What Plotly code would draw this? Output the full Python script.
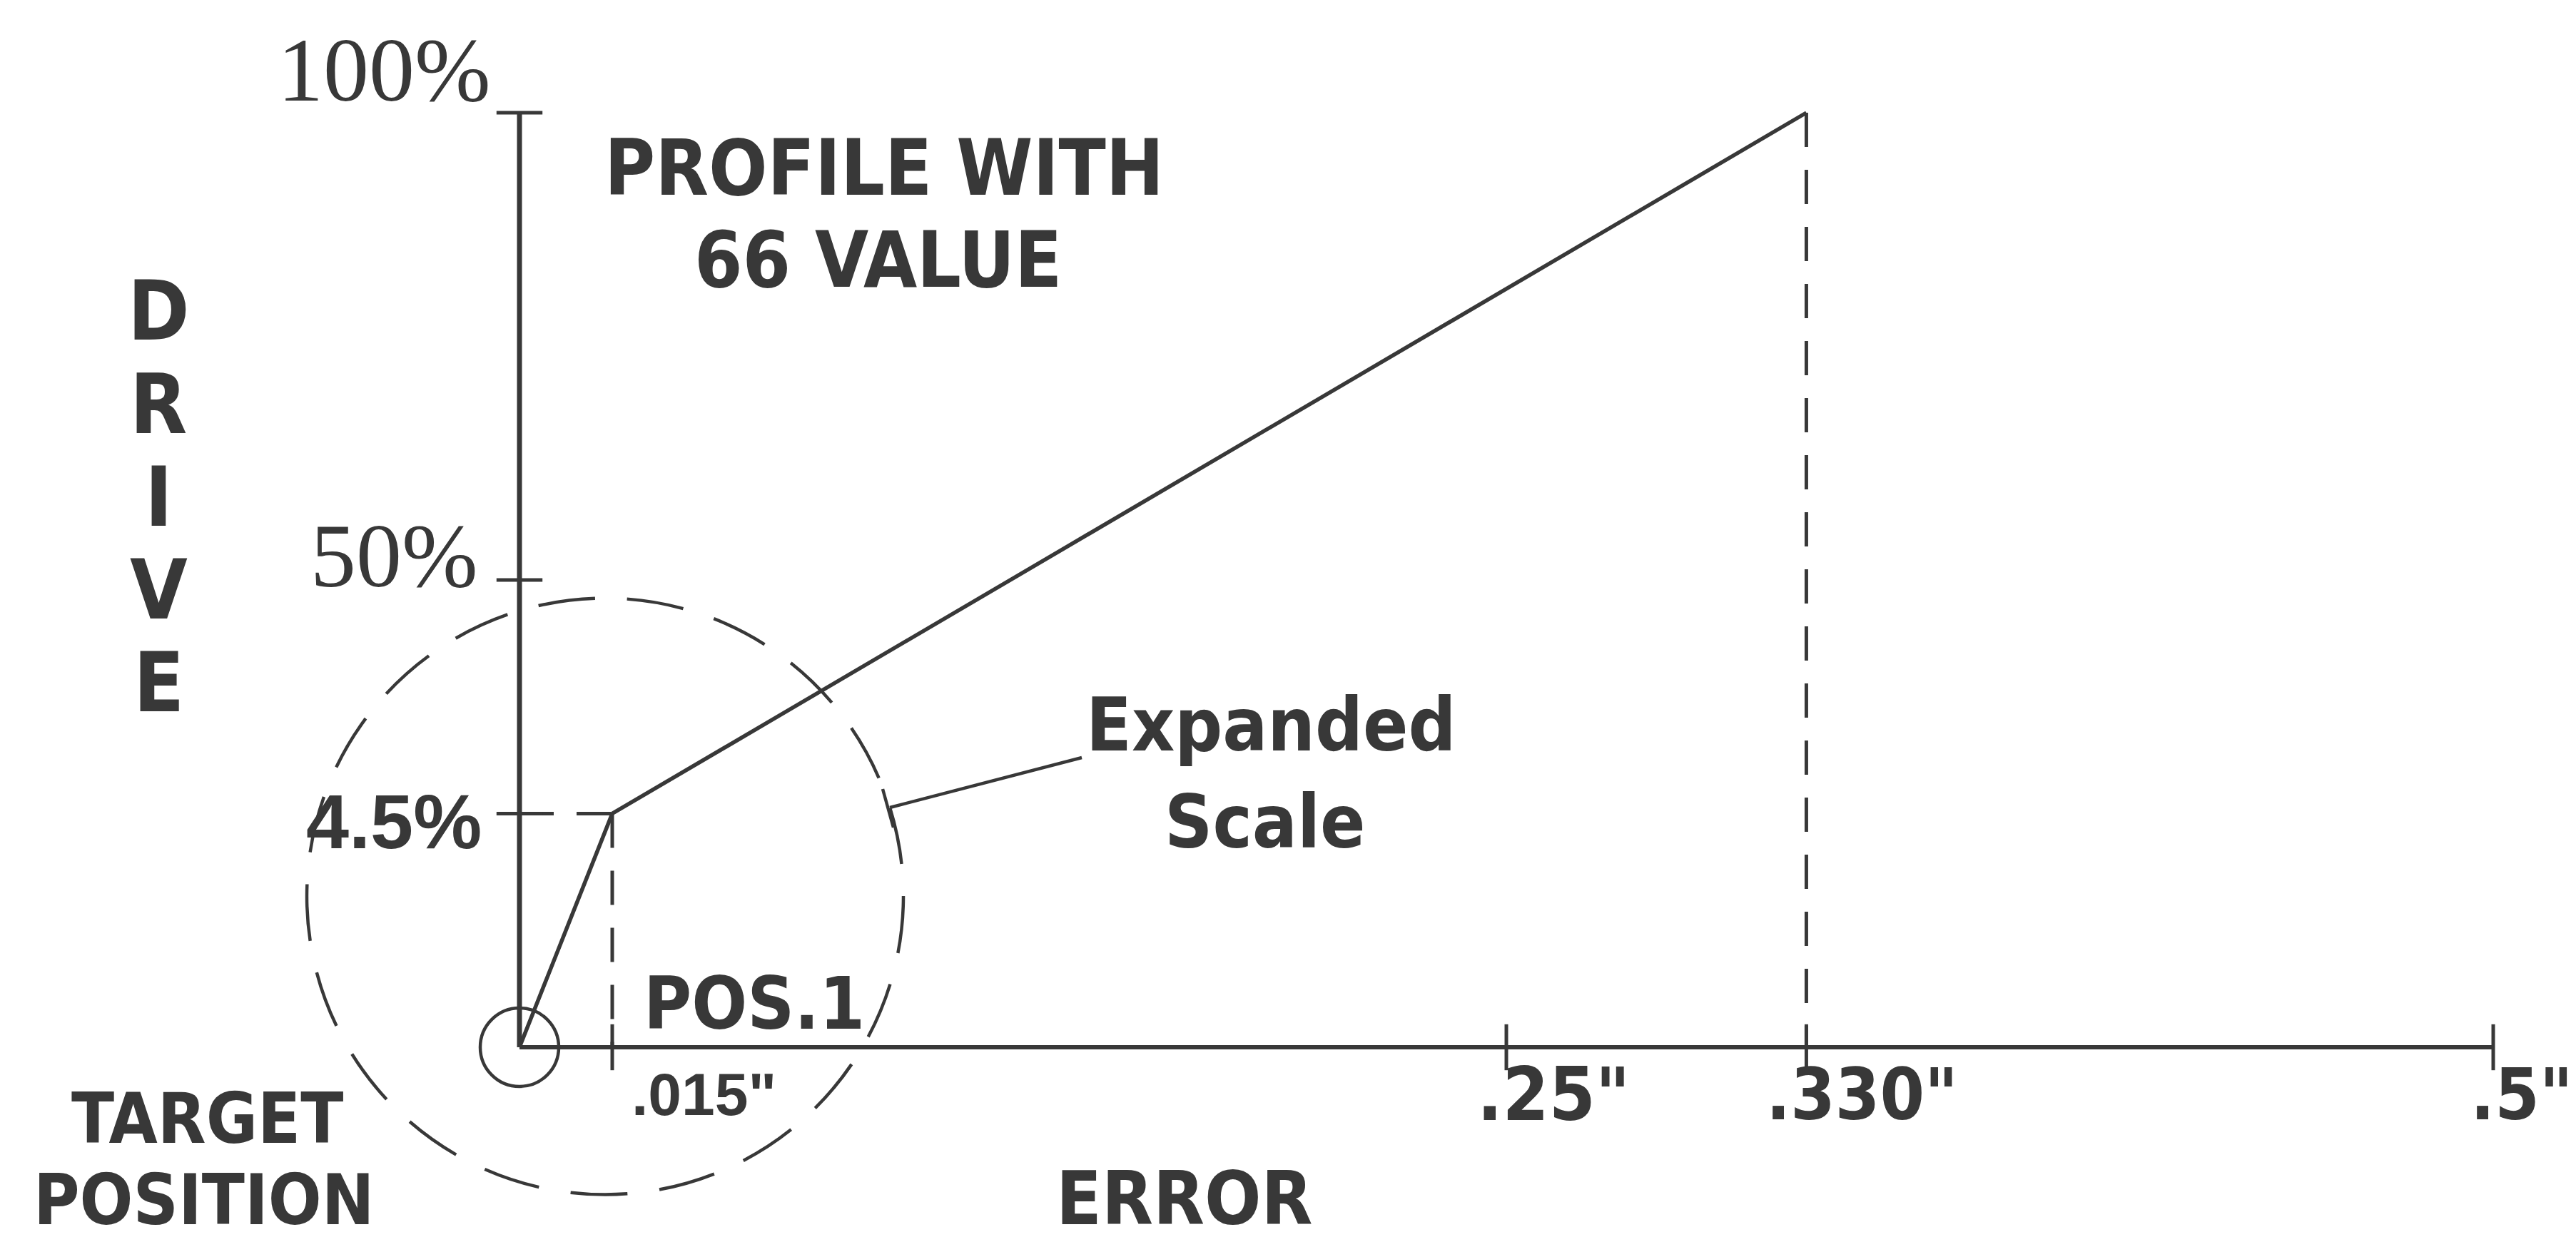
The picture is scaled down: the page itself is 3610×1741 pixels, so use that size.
import numpy as np
import plotly.graph_objects as go

# ---------------- data ----------------
error_tick_values = [0.015, 0.25, 0.330, 0.5]
error_tick_labels = ['.015"', '.25"', '.330"', '.5"']
drive_tick_values = [100, 50, 4.5]
drive_tick_labels = ["100%", "50%", "4.5%"]
profile_error = [0.0, 0.015, 0.330]      # inches
profile_drive = [0.0, 4.5, 100.0]        # percent drive
error_axis_max = 0.5
drive_axis_max = 100

# ------------- "expanded scale" of the drawing (not to scale near origin) -------------
X_BREAKS = [0, 0.015, 0.25, 0.330, 0.5]
X_DRAWN = [0, 0.0235, 0.25, 0.326, 0.5]
Y_BREAKS = [0, 4.5, 50, 100]
Y_DRAWN = [0, 25.0, 50, 100]


def ex(v):
    return np.interp(v, X_BREAKS, X_DRAWN)


def ey(v):
    return np.interp(v, Y_BREAKS, Y_DRAWN)


# ------------- geometry / style -------------
W, H = 3610, 1741
X0_PX, X1_PX = 720, 3486     # pixel of error 0 and 0.5
Y0_PX, Y1_PX = 1460, 150     # pixel of drive 0 and 100
sx = (X1_PX - X0_PX) / error_axis_max
sy = (Y0_PX - Y1_PX) / drive_axis_max
x_range = [-X0_PX / sx, (W - X0_PX) / sx]
y_range = [-(H - Y0_PX) / sy, Y0_PX / sy]

INK = "#383838"
COND = "DejaVu Sans Condensed, Liberation Sans Narrow, DejaVu Sans, sans-serif"
SANS = "Liberation Sans, Arial, sans-serif"
SERIF = "Liberation Serif, DejaVu Serif, serif"

fig = go.Figure()

# axes
fig.add_trace(go.Scatter(x=[0, ex(error_axis_max)], y=[0, 0], mode="lines",
                         line=dict(color=INK, width=6)))
fig.add_trace(go.Scatter(x=[0, 0], y=[0, ey(drive_axis_max)], mode="lines",
                         line=dict(color=INK, width=7)))

# dashed guide lines
kx, ky = float(ex(profile_error[1])), float(ey(profile_drive[1]))
px_, py_ = float(ex(profile_error[2])), float(ey(profile_drive[2]))
fig.add_trace(go.Scatter(
    x=[0, kx, None, kx, kx, None, px_, px_],
    y=[ky, ky, None, ky, 0, None, py_, 0],
    mode="lines", line=dict(color=INK, width=5, dash="48px,32px")))

# profile
fig.add_trace(go.Scatter(x=ex(profile_error), y=ey(profile_drive), mode="lines",
                         line=dict(color=INK, width=5.5)))

# ticks
fig.add_trace(go.Scatter(x=ex(error_tick_values), y=[0] * len(error_tick_values),
                         mode="markers",
                         marker=dict(symbol="line-ns", size=46,
                                     line=dict(color=INK, width=5))))
fig.add_trace(go.Scatter(x=[0] * len(drive_tick_values), y=ey(drive_tick_values),
                         mode="markers",
                         marker=dict(symbol="line-ew", size=46,
                                     line=dict(color=INK, width=5))))

# circles
fig.add_shape(type="circle", xref="x", yref="y", xsizemode="pixel", ysizemode="pixel",
              xanchor=0, yanchor=0, x0=-55, x1=55, y0=-55, y1=55,
              line=dict(color=INK, width=4.5))
cr, cdx, cdy = 418, -10, -116
fig.add_shape(type="circle", xref="x", yref="y", xsizemode="pixel", ysizemode="pixel",
              xanchor=kx, yanchor=ky, x0=cdx - cr, x1=cdx + cr, y0=cdy - cr, y1=cdy + cr,
              line=dict(color=INK, width=4.5, dash="80px,45px"))


def P(px, py):
    return px / W, 1 - py / H


# leader for "Expanded Scale"
for (a, b) in [((1239, 1124), (1508, 1054)), ((1229, 1098), (1244, 1152))]:
    x0, y0 = P(*a)
    x1, y1 = P(*b)
    fig.add_shape(type="line", xref="paper", yref="paper", x0=x0, y0=y0, x1=x1, y1=y1,
                  line=dict(color=INK, width=4.5))

ann = []


def text_px(t, px, py, size, family=COND, weight="bold"):
    x, y = P(px, py)
    ann.append(dict(text=t, x=x, y=y, xref="paper", yref="paper", xanchor="center",
                    yanchor="middle", showarrow=False,
                    font=dict(family=family, size=size, color=INK, weight=weight)))


# tick labels anchored to the axes
x_label_shift = [(128, -66), (66, -66), (78, -66), (40, -66)]
x_label_size = [84, 104, 100, 100]
for v, t, (dx, dy), s in zip(error_tick_values, error_tick_labels, x_label_shift, x_label_size):
    fam = SANS if t == '.015"' else COND
    ann.append(dict(text=t, x=float(ex(v)), y=0, xref="x", yref="y", xanchor="center",
                    yanchor="middle", xshift=dx, yshift=dy, showarrow=False,
                    font=dict(family=fam, size=s, color=INK, weight="bold")))

y_label_shift = [(-190, 60), (-176, 34), (-176, -11)]
y_label_font = [(SERIF, 128, "normal"), (SERIF, 128, "normal"), (SANS, 108, "bold")]
for v, t, (dx, dy), (fam, s, wt) in zip(drive_tick_values, drive_tick_labels, y_label_shift, y_label_font):
    ann.append(dict(text=t, x=0, y=float(ey(v)), xref="x", yref="y", xanchor="center",
                    yanchor="middle", xshift=dx, yshift=dy, showarrow=False,
                    font=dict(family=fam, size=s, color=INK, weight=wt)))

# titles / labels
text_px("PROFILE WITH", 1231, 228, 108)
text_px("66 VALUE", 1222, 356, 108)
for i, ch in enumerate("DRIVE"):
    text_px(ch, 214, 428 + 130 * i, 116)
text_px("Expanded", 1773, 1008, 104)
text_px("Scale", 1764, 1144, 104)
text_px("POS.1", 1049, 1398, 102)
text_px("TARGET", 282, 1560, 98)
text_px("POSITION", 277, 1674, 98)
text_px("ERROR", 1652, 1672, 104)

fig.update_layout(
    width=W, height=H, margin=dict(l=0, r=0, t=0, b=0),
    paper_bgcolor="white", plot_bgcolor="white", showlegend=False,
    hovermode=False, annotations=ann,
    xaxis=dict(range=x_range, visible=False, fixedrange=True),
    yaxis=dict(range=y_range, visible=False, fixedrange=True),
)

fig.write_html("out.html", config={"displayModeBar": False})
